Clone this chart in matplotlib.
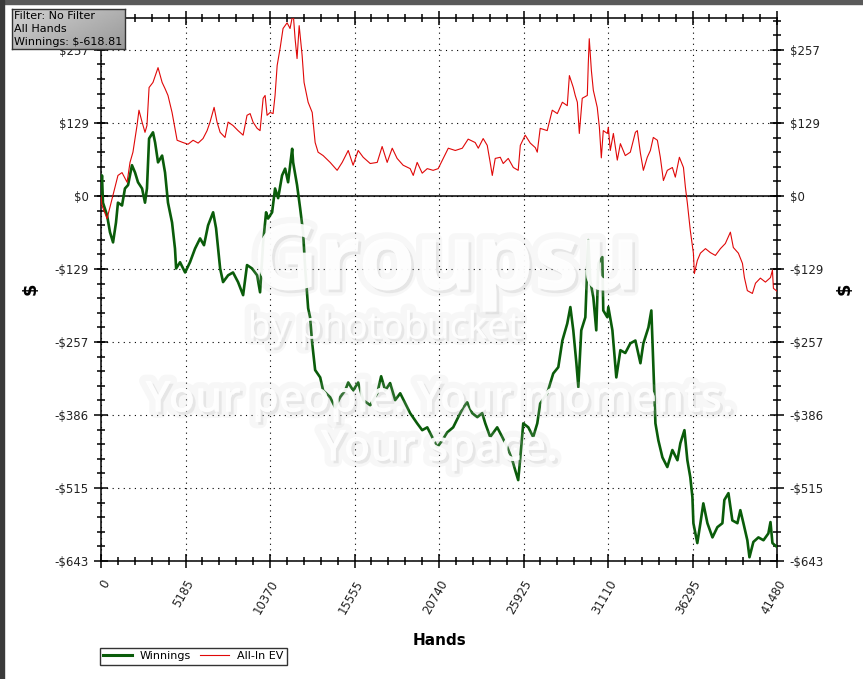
import numpy as np
import matplotlib
matplotlib.use("Agg")
import matplotlib.pyplot as plt
import matplotlib.patheffects as pe
from matplotlib.patches import Rectangle
from matplotlib.lines import Line2D

# All-In EV series (hands, dollars)
ev_hands = [0, 60, 370, 550, 1040, 1290, 1600, 1780, 1960, 2210, 2330, 2520, 2700, 2820,
            2950, 3190, 3500, 3750, 3930, 4110, 4360, 4540, 4670, 5030, 5340, 5650, 5960,
            6260, 6510, 6690, 6940, 7120, 7310, 7610, 7800, 8100, 8410, 8720, 8960, 9150,
            9330, 9580, 9760, 9950, 10070, 10190, 10380, 10560, 10680, 10810, 10990, 11170,
            11420, 11600, 11790, 11910, 12030, 12160, 12340, 12460, 12710, 12960, 13140,
            13320, 13630, 14060, 14490, 14800, 15170, 15470, 15780, 16090, 16520, 16950,
            17250, 17560, 17870, 18170, 18540, 18970, 19160, 19400, 19710, 20020, 20380,
            20690, 21000, 21310, 21740, 22170, 22530, 22960, 23150, 23450, 23700, 23880,
            24010, 24190, 24500, 24680, 24990, 25300, 25600, 25730, 26030, 26340, 26650,
            26770, 26950, 27380, 27690, 28000, 28310, 28610, 28740, 28980, 29100, 29230,
            29350, 29530, 29840, 29900, 29960, 30090, 30210, 30450, 30580, 30700, 30820,
            31070, 31130, 31250, 31440, 31680, 31870, 32170, 32480, 32790, 32910, 33100,
            33280, 33520, 33710, 33890, 34140, 34320, 34510, 34750, 35060, 35240, 35490,
            35740, 35860, 35980, 36160, 36350, 36410, 36590, 36780, 37090, 37390, 37700,
            38010, 38310, 38620, 38800, 39110, 39360, 39480, 39660, 39970, 40160, 40460,
            40770, 41080, 41200, 41260, 41480]
ev_values = [0, -17, -40, -20, 36, 41, 24, 59, 77, 124, 151, 130, 112, 124,
             191, 200, 226, 200, 189, 177, 147, 119, 98, 94, 91, 98, 93,
             101, 115, 130, 156, 130, 112, 103, 130, 124, 115, 107, 142, 145,
             130, 119, 115, 172, 177, 142, 147, 145, 177, 230, 260, 295,
             305, 295, 323, 277, 242, 300, 248, 200, 165, 147, 94,
             77, 71, 59, 45, 59, 80, 54, 80, 68, 57, 59,
             87, 59, 84, 66, 54, 48, 36, 59, 40, 48, 45,
             48, 66, 84, 80, 84, 100, 94, 84, 101, 89, 59,
             36, 66, 68, 57, 66, 50, 45, 89, 107, 93, 85,
             77, 119, 115, 151, 145, 165, 159, 212, 191, 177, 165,
             110, 172, 177, 233, 277, 221, 186, 156, 121, 67, 115,
             110, 121, 80, 110, 63, 92, 71, 77, 112, 115, 75,
             45, 68, 80, 103, 98, 68, 27, 45, 50, 33, 68,
             50, 15, -13, -61, -101, -137, -114, -101, -93, -100, -105,
             -93, -84, -64, -91, -101, -119, -144, -167, -172, -154, -145,
             -152, -144, -131, -163, -168]

# Winnings series (hands, dollars)
win_hands = [0, 60, 120, 370, 550, 740, 920, 1040, 1290, 1470, 1660, 1900, 2090, 2270,
             2520, 2700, 2820, 2950, 3190, 3320, 3500, 3750, 3930, 4110, 4360, 4540, 4610,
             4850, 5160, 5460, 5770, 6080, 6320, 6570, 6880, 7060, 7310, 7490, 7800, 8100,
             8410, 8720, 8960, 9270, 9580, 9760, 9950, 10130, 10250, 10500, 10680, 10870,
             11110, 11300, 11480, 11730, 11790, 12030, 12220, 12400, 12530, 12710, 12830,
             12960, 13140, 13450, 13630, 14060, 14370, 14670, 14980, 15170, 15470, 15780,
             16090, 16520, 16950, 17190, 17440, 17740, 18050, 18360, 18670, 18970, 19400,
             19710, 20020, 20320, 20630, 20940, 21240, 21610, 21920, 22230, 22470, 22780,
             23090, 23390, 23580, 23880, 24310, 24620, 24930, 25240, 25420, 25600, 25730,
             25910, 26220, 26520, 26770, 26950, 27380, 27750, 28060, 28310, 28610, 28800,
             28980, 29170, 29290, 29470, 29720, 29900, 30020, 30210, 30390, 30520, 30760,
             30820, 31070, 31130, 31380, 31620, 31870, 32170, 32480, 32790, 33100, 33280,
             33590, 33770, 33890, 34020, 34200, 34450, 34750, 35060, 35370, 35550, 35800,
             35980, 36160, 36290, 36350, 36590, 36780, 36960, 37210, 37520, 37820, 38130,
             38250, 38500, 38740, 39050, 39230, 39420, 39660, 39790, 40030, 40340, 40650,
             40950, 41080, 41200, 41480]
win_values = [0, 36, -12, -34, -64, -82, -47, -12, -17, 13, 19, 54, 41, 24,
              13, -12, 13, 101, 112, 94, 59, 71, 41, -12, -47, -93, -128,
              -117, -135, -117, -93, -75, -87, -52, -29, -57, -128, -152, -140, -135,
              -152, -175, -122, -128, -140, -170, -82, -29, -40, -29, 13, -4,
              36, 48, 24, 83, 59, 19, -22, -64, -128, -198, -214,
              -260, -307, -320, -343, -355, -373, -355, -343, -329, -343, -329,
              -360, -369, -348, -318, -343, -330, -360, -348, -366, -383, -401,
              -413, -408, -425, -443, -431, -417, -408, -390, -373, -364, -383,
              -390, -383, -401, -425, -408, -425, -443, -466, -484, -501, -461,
              -401, -408, -425, -401, -366, -348, -313, -302, -255, -225, -196,
              -237, -295, -337, -237, -214, -78, -149, -179, -237, -119, -108,
              -202, -214, -196, -237, -320, -272, -277, -260, -255, -295, -260,
              -232, -202, -295, -401, -431, -461, -478, -448, -466, -436, -413,
              -466, -496, -531, -577, -612, -577, -542, -577, -602, -584, -577,
              -536, -524, -572, -577, -554, -577, -607, -637, -610, -602, -607,
              -595, -575, -612, -619]

x_ticks = [0, 5185, 10370, 15555, 20740, 25925, 31110, 36295, 41480]
y_ticks = [-643.6, -514.9, -386.2, -257.4, -128.7, 0, 128.7, 257.4]
y_tick_labels = ["-$643", "-$515", "-$386", "-$257", "-$129", "$0", "$129", "$257"]
info_lines = ["Filter: No Filter", "All Hands", "Winnings: $-618.81"]

W, H = 863, 679
fig = plt.figure(figsize=(W / 100, H / 100), dpi=100)
fig.patch.set_facecolor("white")

ax = fig.add_axes([101 / W, 1 - 561 / H, 676 / W, 543 / H])
ax.set_xlim(0, 41480)
ax.set_ylim(-643.6, 313.5)

green = "#0a5c0a"
red = "#e00808"
ax.plot(win_hands, win_values, color=green, lw=1.9, zorder=3, solid_joinstyle="round")
ax.plot(ev_hands, ev_values, color=red, lw=0.8, zorder=4)
ax.axhline(0, color="black", lw=1.1, zorder=2)

ax.set_xticks(x_ticks)
ax.set_xticklabels([str(t) for t in x_ticks], rotation=60, ha="right", va="top",
                   rotation_mode="anchor", fontsize=8.5, color="#222222")
ax.set_xticks(np.arange(0, 41481, 1037), minor=True)
ax.set_yticks(y_ticks)
ax.set_yticklabels(y_tick_labels, fontsize=8.5, color="#222222")
ax.set_yticks(np.arange(-643.6, 313.5, 25.74), minor=True)

ax.tick_params(axis="both", which="major", direction="inout", length=10, width=1.1,
               top=True, right=True, labelright=True)
ax.tick_params(axis="both", which="minor", direction="inout", length=5.5, width=1.1,
               top=True, right=True)
ax.tick_params(axis="x", which="major", pad=7)
ax.tick_params(axis="y", which="major", pad=4)
for s in ax.spines.values():
    s.set_linewidth(1.1)

ax.grid(True, which="major", color="black", linestyle=(0, (1, 4)), lw=0.8)

ax.set_xlabel("Hands", fontsize=11, fontweight="bold", labelpad=12)
fig.text(31 / W, 1 - 289 / H, "$", fontsize=13, fontweight="bold", rotation=90,
         ha="center", va="center")
fig.text(845 / W, 1 - 289 / H, "$", fontsize=13, fontweight="bold", rotation=90,
         ha="center", va="center")

# legend
handles = [Line2D([], [], color=green, lw=2.2), Line2D([], [], color=red, lw=0.8)]
leg = fig.legend(handles, ["Winnings", "All-In EV"], loc="upper left",
                 bbox_to_anchor=(100 / W, 1 - 648 / H), ncol=2, fontsize=8,
                 frameon=True, fancybox=False, edgecolor="black", borderpad=0.3,
                 handlelength=2.6, columnspacing=0.8, handletextpad=0.7, borderaxespad=0)
leg.get_frame().set_linewidth(1.0)

# photobucket watermark: see-through white text with a soft grey halo
glow = [pe.SimplePatchShadow(offset=(2, -2), shadow_rgbFace="#9a9a9a", alpha=0.18),
        pe.withStroke(linewidth=9, foreground="#c8c8c8", alpha=0.14),
        pe.Normal()]
wm = dict(color="white", alpha=0.72, ha="center", va="baseline", family="Open Sans",
          fontweight="bold", zorder=10, path_effects=glow)
ax.text(0.51, 0.5, "Groupsu", transform=ax.transAxes, fontsize=66, **wm)
ax.text(0.42, 0.41, "by photobucket", transform=ax.transAxes, fontsize=27,
        **{**wm, "fontweight": "normal"})
ax.text(0.5, 0.275, "Your people. Your moments.", transform=ax.transAxes, fontsize=31,
        **{**wm, "fontweight": "semibold"})
ax.text(0.5, 0.185, "Your space.", transform=ax.transAxes, fontsize=31,
        **{**wm, "fontweight": "semibold"})

# info box with gray gradient
bax = fig.add_axes([12 / W, 1 - 49 / H, 113 / W, 40 / H], zorder=20)
gx, gy = np.meshgrid(np.linspace(0, 1, 60), np.linspace(0, 1, 30))
grad = 0.82 - 0.22 * (0.6 * gx + 0.4 * gy)
bax.imshow(grad, cmap="gray", vmin=0, vmax=1, extent=(0, 1, 0, 1), aspect="auto", origin="upper")
bax.set_xticks([])
bax.set_yticks([])
for s in bax.spines.values():
    s.set_color("#333333")
    s.set_linewidth(1.0)
for i, line in enumerate(info_lines):
    bax.text(0.02, 0.83 - i * 0.33, line, fontsize=8, va="center", ha="left", color="black")

# window frame edges
fig.patches.append(Rectangle((0, 1 - 4 / H), 1, 4 / H, transform=fig.transFigure,
                             color="#5a5a5a", zorder=30))
fig.patches.append(Rectangle((0, 0), 4 / W, 1, transform=fig.transFigure,
                             color="#3a3a3a", zorder=30))

fig.savefig("out.png", dpi=100)
